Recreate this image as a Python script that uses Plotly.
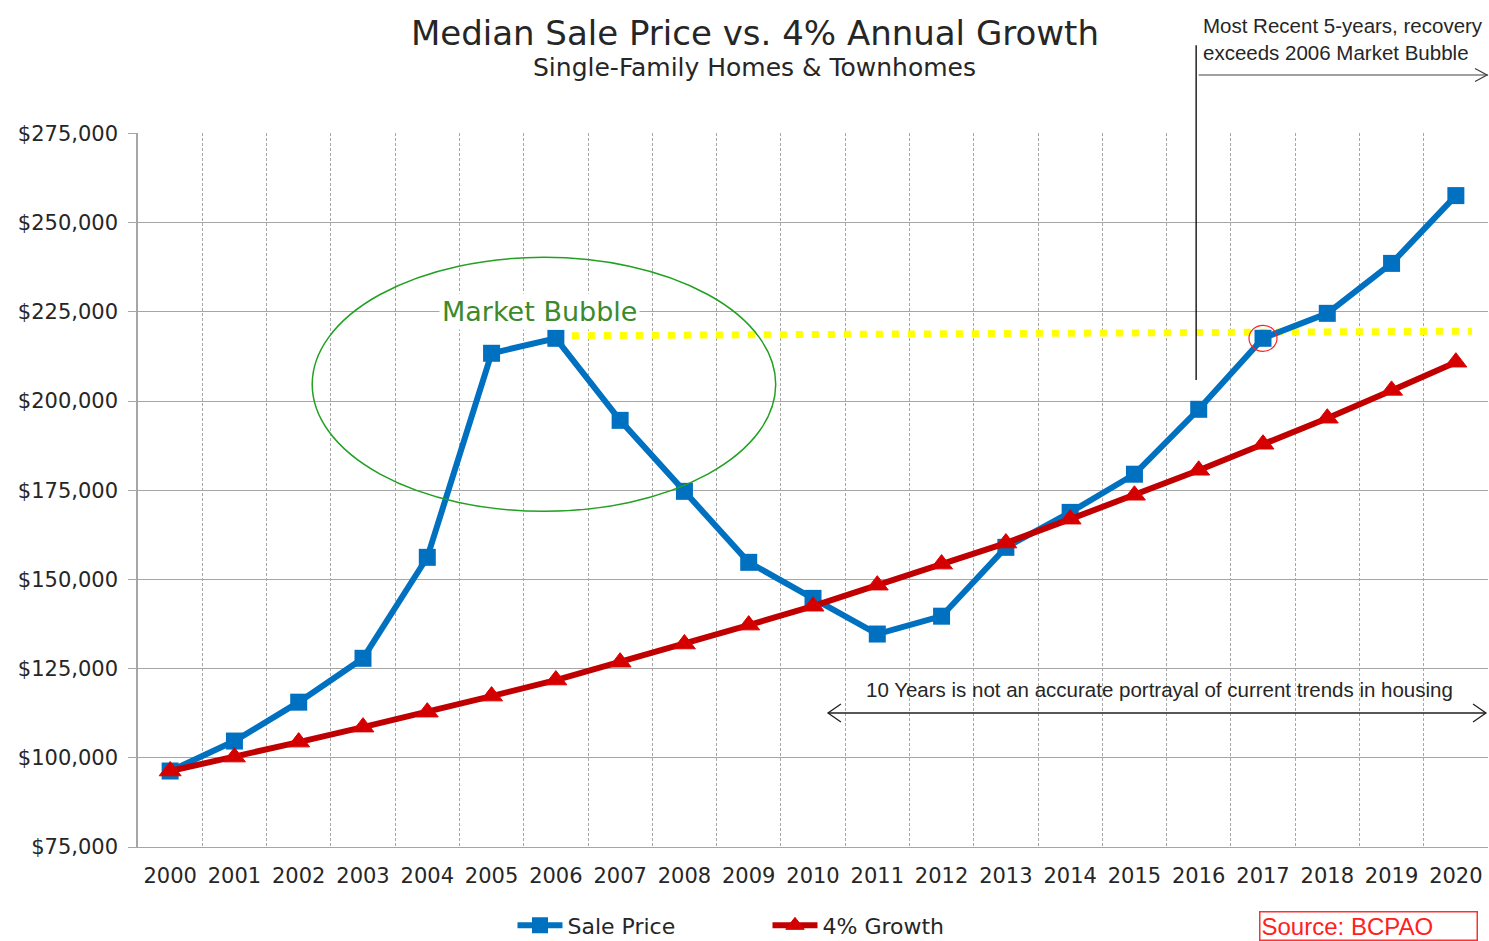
import plotly.graph_objects as go

# Data
years = list(range(2000, 2021))
sale_price = [96300, 104700, 115600, 127900, 156200, 213400, 217600, 194600,
              174700, 154800, 144700, 134700, 139700, 159000, 168800, 179500,
              197700, 217600, 224600, 238600, 257600]
growth_4pct = [96300, 100200, 104400, 108600, 112800, 117300, 121800, 126800,
               131900, 137200, 142500, 148400, 154300, 160200, 166900, 173600,
               180600, 187900, 195200, 203000, 210900]
peak_line_x = [2006, 2020.25]
peak_line_y = [218300, 219600]
y_ticks = [75000, 100000, 125000, 150000, 175000, 200000, 225000, 250000, 275000]
y_labels = ["${:,}".format(v) for v in y_ticks]

BLUE = "#0070C0"
RED = "#C00000"
GRID = "#a6a6a6"
FONT = "DejaVu Sans"
ARIAL = "Liberation Sans"
TEXT = "#262626"

fig = go.Figure()

fig.add_trace(go.Scatter(
    x=peak_line_x, y=peak_line_y, mode="lines", showlegend=False,
    line=dict(color="#ffff00", width=7, dash="7px,9px"), hoverinfo="skip"
))
fig.add_trace(go.Scatter(
    x=years, y=sale_price, mode="lines+markers", name="Sale Price",
    line=dict(color=BLUE, width=6),
    marker=dict(symbol="square", size=17, color=BLUE)
))
fig.add_trace(go.Scatter(
    x=years, y=growth_4pct, mode="lines+markers", name="4% Growth",
    line=dict(color=RED, width=6),
    marker=dict(symbol="triangle-up", size=19, color="#d40000",
                line=dict(color="#e00000", width=1))
))

shapes = [
    # market bubble ellipse
    dict(type="circle", xref="x", yref="y", x0=2002.21, x1=2009.42,
         y0=169100, y1=240300, line=dict(color="#22a022", width=1.5), layer="above"),
    # red circle round the 2017 point
    dict(type="circle", xref="x", yref="y", xsizemode="pixel", ysizemode="pixel",
         xanchor=2017, yanchor=217600, x0=-14, x1=14, y0=-13, y1=13,
         line=dict(color="#ff2020", width=1.2)),
    # vertical marker line at 2016
    dict(type="line", xref="x", yref="paper", x0=2015.96, x1=2015.96,
         y0=0.654, y1=1.123, line=dict(color="#000000", width=1.3)),
    # top horizontal arrow
    dict(type="line", xref="x", yref="paper", x0=2016.0, x1=2020.5,
         y0=1.0812, y1=1.0812, line=dict(color="#7f7f7f", width=1.3)),
    dict(type="path", xref="paper", yref="paper",
         path="M 0.9904 1.0903 L 0.9993 1.0812 L 0.9904 1.0721",
         line=dict(color="#404040", width=1.3)),
    # double arrow, 10 years
    dict(type="line", xref="paper", yref="paper", x0=0.5111, x1=0.9985,
         y0=0.1877, y1=0.1877, line=dict(color="#202020", width=1.3)),
    dict(type="path", xref="paper", yref="paper",
         path="M 0.5207 0.2003 L 0.5111 0.1877 L 0.5207 0.1751",
         line=dict(color="#202020", width=1.3)),
    dict(type="path", xref="paper", yref="paper",
         path="M 0.9889 0.2003 L 0.9985 0.1877 L 0.9889 0.1751",
         line=dict(color="#202020", width=1.3)),
]

annotations = [
    dict(text="Market Bubble", x=2005.75, y=225100, xref="x", yref="y",
         showarrow=False, font=dict(family=FONT, size=27, color="#3c8a2c"),
         bgcolor="white", borderpad=2),
    dict(text="Most Recent 5-years, recovery<br>exceeds 2006 Market Bubble",
         xref="paper", yref="paper", x=0.7877, y=1.1317, xanchor="left", yanchor="middle",
         align="left", showarrow=False,
         font=dict(family=ARIAL, size=20.5, color=TEXT)),
    dict(text="10 Years is not an accurate portrayal of current trends in housing",
         xref="paper", yref="paper", x=0.7567, y=0.2199, xanchor="center", yanchor="middle",
         showarrow=False, font=dict(family=ARIAL, size=20.5, color=TEXT)),
    dict(text="Single-Family Homes &amp; Townhomes", xref="paper", yref="paper",
         x=0.4570, y=1.0924, xanchor="center", yanchor="middle", showarrow=False,
         font=dict(family=FONT, size=25, color=TEXT)),
    dict(text="Source: BCPAO", xref="paper", yref="paper", x=0.8304, y=-0.1107,
         xanchor="left", yanchor="middle", align="left", showarrow=False,
         width=214, height=25, bordercolor="#ff3030", borderwidth=1.5, borderpad=1,
         font=dict(family=ARIAL, size=24, color="#ff2020")),
]

fig.update_layout(
    width=1489, height=941,
    paper_bgcolor="white", plot_bgcolor="white",
    margin=dict(l=138, r=1, t=133, b=94, autoexpand=False),
    title=dict(text="Median Sale Price vs. 4% Annual Growth", x=0.507, xanchor="center",
               y=0.965, yanchor="middle",
               font=dict(family=FONT, size=34, color=TEXT)),
    shapes=shapes, annotations=annotations,
    legend=dict(orientation="h", x=0.2774, xanchor="left", y=-0.110, yanchor="middle",
                font=dict(family=FONT, size=22, color=TEXT),
                entrywidth=195, itemwidth=45, bgcolor="rgba(0,0,0,0)"),
    showlegend=True,
)

fig.update_xaxes(
    range=[1999.5, 2020.5], tickmode="array", tickvals=years,
    ticktext=[str(y) for y in years], showgrid=False, ticks="",
    tickfont=dict(family=FONT, size=21, color=TEXT), ticklabelstandoff=10,
    showline=True, linecolor=GRID, linewidth=1, automargin=False,
    minor=dict(tickvals=[y + 0.5 for y in years], showgrid=True,
               gridcolor=GRID, griddash="3px,2px", gridwidth=1),
    zeroline=False,
)
fig.update_yaxes(
    range=[75000, 275150], tickmode="array", tickvals=y_ticks, ticktext=y_labels,
    showgrid=True, gridcolor=GRID, gridwidth=1,
    ticks="outside", ticklen=8, tickcolor=GRID, ticklabelstandoff=6,
    showline=True, linecolor=GRID, linewidth=1.5, automargin=False,
    tickfont=dict(family=FONT, size=21, color=TEXT), zeroline=False,
)

fig.write_html("out.html", config={"displayModeBar": False},
               post_script="document.body.style.margin='0';document.body.style.overflow='hidden';")
